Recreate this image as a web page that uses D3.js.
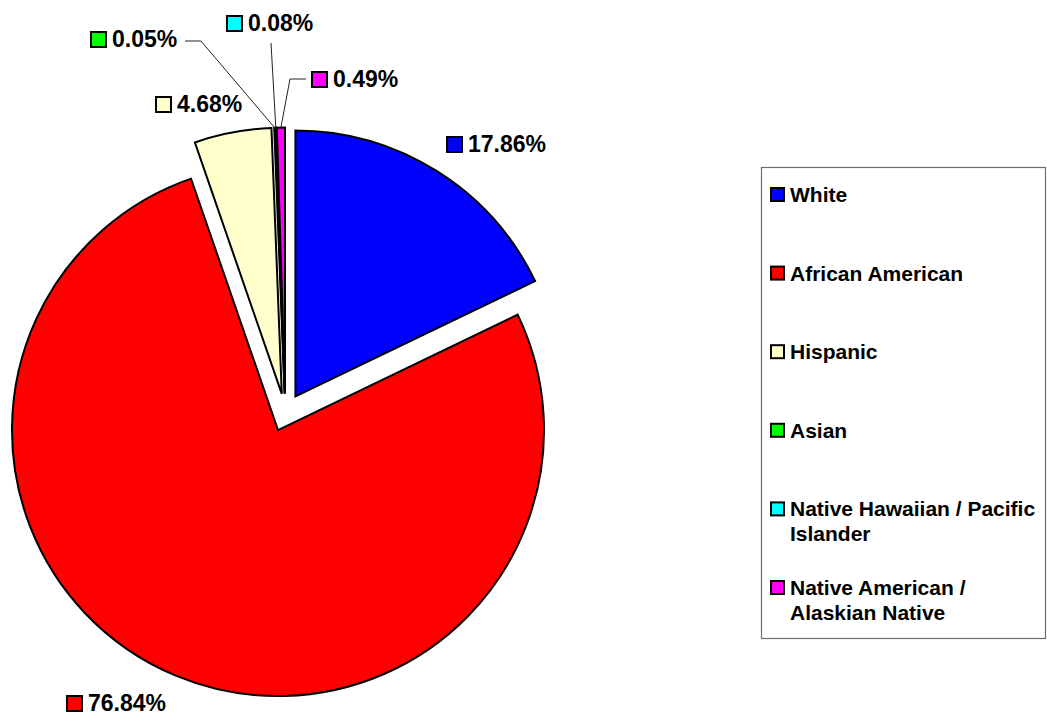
<!DOCTYPE html>
<html>
<head>
<meta charset="utf-8">
<script src="https://cdn.jsdelivr.net/npm/d3@7/dist/d3.min.js"></script>
<style>
  html, body { margin: 0; padding: 0; background: #ffffff; }
  svg { display: block; }
  text { font-family: Arial, "Liberation Sans", sans-serif; font-weight: bold; fill: #000; }
</style>
</head>
<body>
<svg id="chart" width="1047" height="715"></svg>
<script>
// Share of population by race / ethnicity (percent)
const categories = [
  "White",
  "African American",
  "Hispanic",
  "Asian",
  "Native Hawaiian / Pacific Islander",
  "Native American / Alaskian Native"
];
const values = [17.86, 76.84, 4.68, 0.05, 0.08, 0.49];
const colors = ["#0000FF", "#FF0000", "#FFFFCC", "#00FF00", "#00FFFF", "#FF00FF"];

const svg = d3.select("#chart");

// ---- pie geometry ----
const cx = 285.3, cy = 412.5;
const radius = 266;
const explode = 19;

const pie = d3.pie().sort(null).value(d => d.value).startAngle(0).endAngle(2 * Math.PI);
const arc = d3.arc().innerRadius(0).outerRadius(radius);

const rows = categories.map((c, i) => ({ name: c, value: values[i], color: colors[i] }));
const arcs = pie(rows);

function offset(d) {
  const a = (d.startAngle + d.endAngle) / 2;
  return [explode * Math.sin(a), -explode * Math.cos(a)];
}

const pieG = svg.append("g").attr("transform", `translate(${cx},${cy})`);
pieG.selectAll("path.slice")
  .data(arcs)
  .join("path")
  .attr("class", "slice")
  .attr("transform", d => { const o = offset(d); return `translate(${o[0]},${o[1]})`; })
  .attr("d", arc)
  .attr("fill", d => d.data.color)
  .attr("stroke", "#000")
  .attr("stroke-width", 2)
  .attr("stroke-linejoin", "miter");

// ---- data labels ----
const fmt = v => d3.format(".2f")(v) + "%";
const labelFont = 23;
// label anchor (left edge of key square, text baseline) and optional leader elbow
const labelLayout = [
  { x: 446, y: 152, leader: null },
  { x: 66,  y: 711, leader: null },
  { x: 155, y: 112, leader: null },
  { x: 90,  y: 47,  leader: [[185, 41], [201, 41]] },
  { x: 226, y: 31,  leader: [[271, 43]] },
  { x: 311, y: 87,  leader: [[306, 79], [290, 79]] }
];

const labelG = svg.append("g");
arcs.forEach((d, i) => {
  const L = labelLayout[i];
  if (L.leader) {
    const a = (d.startAngle + d.endAngle) / 2;
    const o = offset(d);
    const end = [cx + o[0] + radius * Math.sin(a), cy + o[1] - radius * Math.cos(a)];
    labelG.append("path")
      .attr("d", d3.line()(L.leader.concat([end])))
      .attr("fill", "none")
      .attr("stroke", "#222")
      .attr("stroke-width", 1);
  }
  labelG.append("rect")
    .attr("x", L.x + 1)
    .attr("y", L.y - 15)
    .attr("width", 15)
    .attr("height", 15)
    .attr("fill", d.data.color)
    .attr("stroke", "#000")
    .attr("stroke-width", 2);
  labelG.append("text")
    .attr("x", L.x + 22)
    .attr("y", L.y)
    .attr("font-size", labelFont)
    .text(fmt(d.data.value));
});

// ---- legend ----
const legend = { x: 761.5, y: 167.5, w: 284, h: 471 };
const legendG = svg.append("g");
legendG.append("rect")
  .attr("x", legend.x).attr("y", legend.y)
  .attr("width", legend.w).attr("height", legend.h)
  .attr("fill", "#fff")
  .attr("stroke", "#6e6e6e")
  .attr("stroke-width", 1.2);

const legendFont = 21;
const textX = 790;
const wrapWidth = 253;
const rowStep = 78.6;
const firstBaseline = 202;
const lineHeight = 25;

const measurer = svg.append("text").attr("font-size", legendFont).attr("visibility", "hidden");
function wrap(str) {
  const words = str.split(" ");
  const lines = [];
  let cur = "";
  words.forEach(w => {
    const trial = cur ? cur + " " + w : w;
    measurer.text(trial);
    if (cur && measurer.node().getComputedTextLength() > wrapWidth) {
      lines.push(cur);
      cur = w;
    } else {
      cur = trial;
    }
  });
  if (cur) lines.push(cur);
  return lines;
}

rows.forEach((r, i) => {
  const base = firstBaseline + i * rowStep;
  legendG.append("rect")
    .attr("x", 771)
    .attr("y", base - 14)
    .attr("width", 13)
    .attr("height", 13)
    .attr("fill", r.color)
    .attr("stroke", "#000")
    .attr("stroke-width", 2);
  const t = legendG.append("text")
    .attr("x", textX)
    .attr("y", base)
    .attr("font-size", legendFont);
  wrap(r.name).forEach((line, k) => {
    t.append("tspan")
      .attr("x", textX)
      .attr("y", base + k * lineHeight)
      .text(line);
  });
});
measurer.remove();
</script>
</body>
</html>
